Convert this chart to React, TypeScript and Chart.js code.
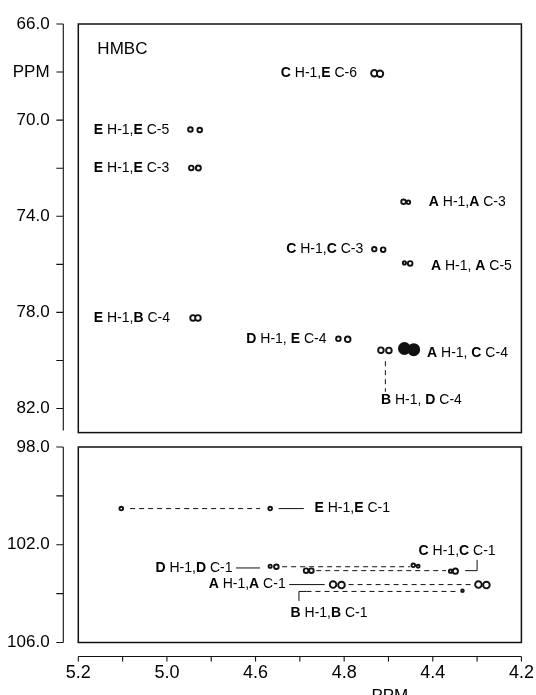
import React, { useEffect, useRef } from "react";
import { Chart, registerables } from "chart.js";
Chart.register(...registerables);

const FONT = '"Liberation Sans", Arial, Helvetica, sans-serif';
const INK = "#111111";

// ---- axes ----
const xTickValues = [5.2, 5.1, 5.0, 4.9, 4.8, 4.7, 4.6, 4.5, 4.4, 4.3, 4.2];
const xTickLabels = ["5.2", "", "5.0", "", "4.6", "", "4.8", "", "4.4", "", "4.2"];
const topTickValues = [66, 68, 70, 72, 74, 76, 78, 80, 82];
const topTickLabels = ["66.0", "PPM", "70.0", "", "74.0", "", "78.0", "", "82.0"];
const bottomTickValues = [98, 100, 102, 104, 106];
const bottomTickLabels = ["98.0", "", "102.0", "", "106.0"];

// ---- top panel peaks (1H ppm, 13C ppm) ----
const topPeakH = [4.532, 4.519, 4.947, 4.926, 4.945, 4.929, 4.466, 4.455, 4.532, 4.512, 4.464, 4.451, 4.941, 4.930, 4.613, 4.592, 4.517, 4.499, 4.464, 4.443];
const topPeakC = [68.05, 68.07, 70.39, 70.41, 71.99, 71.99, 73.40, 73.42, 75.37, 75.39, 75.94, 75.96, 78.23, 78.23, 79.10, 79.12, 79.57, 79.58, 79.50, 79.55];
const topPeakSize = [3.2, 3.2, 2.3, 2.3, 2.3, 2.5, 2.3, 1.8, 2.2, 2.3, 1.6, 2.3, 2.8, 2.8, 2.3, 2.8, 2.8, 2.8, 5.5, 5.5];
const topPeakSolid = [false, false, false, false, false, false, false, false, false, false, false, false, false, false, false, false, false, false, true, true];

const topLabelText = ["**C** H-1,**E** C-6", "**E** H-1,**E** C-5", "**E** H-1,**E** C-3", "**A** H-1,**A** C-3", "**C** H-1,**C** C-3", "**A** H-1, **A** C-5", "**E** H-1,**B** C-4", "**D** H-1, **E** C-4", "**A** H-1, **C** C-4", "**B** H-1, **D** C-4"];
const topLabelH = [4.571, 5.165, 5.165, 4.409, 4.557, 4.404, 5.165, 4.640, 4.413, 4.517];
const topLabelC = [68.05, 70.4, 72.0, 73.42, 75.37, 76.07, 78.23, 79.12, 79.68, 81.66];
const topLabelAlign = ["right", "left", "left", "left", "right", "left", "left", "right", "left", "left"];

const topLinkH = [[4.507, 4.507]];
const topLinkC = [[80.03, 81.30]];
const topLinkDashed = [true];

// ---- bottom panel peaks ----
const bottomPeakH = [5.103, 4.767, 4.767, 4.753, 4.444, 4.433, 4.686, 4.674, 4.360, 4.349, 4.625, 4.606, 4.297, 4.279, 4.333];
const bottomPeakC = [100.52, 100.52, 102.88, 102.90, 102.84, 102.88, 103.06, 103.06, 103.08, 103.08, 103.63, 103.65, 103.63, 103.65, 103.88];
const bottomPeakSize = [1.8, 1.8, 1.6, 2.3, 1.8, 1.5, 2.3, 2.3, 1.6, 2.6, 3.3, 3.3, 3.3, 3.3, 1.3];
const bottomPeakSolid = [false, false, false, false, false, false, false, false, false, false, false, false, false, false, false];

const bottomLabelText = ["**E** H-1,**E** C-1", "**D** H-1,**D** C-1", "**C** H-1,**C** C-1", "**A** H-1,**A** C-1", "**B** H-1,**B** C-1"];
const bottomLabelH = [4.667, 4.852, 4.432, 4.732, 4.721];
const bottomLabelC = [100.52, 102.95, 102.26, 103.63, 104.79];
const bottomLabelAlign = ["left", "right", "left", "right", "left"];

const bottomLinkH = [[5.083, 4.790], [4.748, 4.691], [4.844, 4.790], [4.740, 4.451], [4.663, 4.370], [4.327, 4.300, 4.300], [4.724, 4.644], [4.590, 4.312], [4.702, 4.702, 4.685], [4.685, 4.343]];
const bottomLinkC = [[100.52, 100.52], [100.52, 100.52], [102.95, 102.95], [102.9, 102.9], [103.06, 103.06], [103.06, 103.06, 102.62], [103.63, 103.63], [103.63, 103.63], [104.30, 103.91, 103.91], [103.91, 103.91]];
const bottomLinkDashed = [true, false, false, true, true, false, false, true, false, true];

const panelTitle = "HMBC";
const titleAt = [5.157, 67.06];
const xTitle = "PPM";
const xTitleAt = 4.497;

function drawRich(ctx: CanvasRenderingContext2D, text: string, x: number, y: number, align: string, size: number) {
  const parts = text.split("**");
  const fonts = parts.map((_, i) => `${i % 2 ? "bold " : ""}${size}px ${FONT}`);
  const widths = parts.map((p, i) => {
    ctx.font = fonts[i];
    return ctx.measureText(p).width;
  });
  const total = widths.reduce((a, b) => a + b, 0);
  let cx = align === "right" ? x - total : x;
  ctx.textAlign = "left";
  ctx.textBaseline = "middle";
  parts.forEach((p, i) => {
    ctx.font = fonts[i];
    ctx.fillText(p, cx, y);
    cx += widths[i];
  });
}

function peakDataset(hs: number[], cs: number[], sizes: number[], solid: boolean[]) {
  return {
    type: "scatter",
    data: hs.map((h, i) => ({ x: h, y: cs[i] })),
    pointRadius: sizes,
    pointBackgroundColor: solid.map((s) => (s ? INK : "#ffffff")),
    pointBorderColor: INK,
    pointBorderWidth: 1.9,
    order: 0,
  };
}

function linkDatasets(hs: number[][], cs: number[][], dashed: boolean[]) {
  return hs.map((row, k) => ({
    type: "scatter",
    data: row.map((h, i) => ({ x: h, y: cs[k][i] })),
    showLine: true,
    pointRadius: 0,
    borderColor: INK,
    borderWidth: 1,
    borderDash: dashed[k] ? [5, 4] : [],
    fill: false,
    order: 1,
  }));
}

function makeFramePlugin(opts: any) {
  return {
    id: "frame",
    afterDraw(chart: any) {
      const { ctx, chartArea: a, scales } = chart;
      const ys = scales.y;
      const xs = scales.x;
      ctx.save();
      ctx.strokeStyle = INK;
      ctx.fillStyle = "#000";
      ctx.lineWidth = 1.5;
      ctx.strokeRect(a.left, a.top, a.right - a.left, a.bottom - a.top);
      // detached left axis
      const ax = a.left - 15;
      ctx.lineWidth = 1.1;
      ctx.beginPath();
      ctx.moveTo(ax, a.top);
      ctx.lineTo(ax, a.bottom - opts.axisTrim);
      ys.ticks.forEach((t: any) => {
        const py = ys.getPixelForValue(t.value);
        ctx.moveTo(ax - 7, py);
        ctx.lineTo(ax, py);
      });
      ctx.stroke();
      if (opts.xAxis) {
        const ay = a.bottom + 14;
        ctx.beginPath();
        ctx.moveTo(a.left, ay);
        ctx.lineTo(a.right, ay);
        xs.ticks.forEach((t: any) => {
          const px = xs.getPixelForValue(t.value);
          ctx.moveTo(px, ay);
          ctx.lineTo(px, ay + 5);
        });
        ctx.stroke();
        ctx.font = `17px ${FONT}`;
        ctx.textAlign = "center";
        ctx.textBaseline = "alphabetic";
        ctx.fillText(xTitle, xs.getPixelForValue(xTitleAt), a.bottom + 58);
      }
      if (opts.title) {
        ctx.font = `17px ${FONT}`;
        ctx.textAlign = "left";
        ctx.textBaseline = "middle";
        ctx.fillText(opts.title, xs.getPixelForValue(titleAt[0]), ys.getPixelForValue(titleAt[1]));
      }
      opts.labels.text.forEach((t: string, i: number) => {
        drawRich(ctx, t, xs.getPixelForValue(opts.labels.h[i]), ys.getPixelForValue(opts.labels.c[i]), opts.labels.align[i], 14);
      });
      ctx.restore();
    },
  };
}

function makeConfig(p: any) {
  return {
    type: "scatter",
    data: {
      datasets: [peakDataset(p.peakH, p.peakC, p.peakSize, p.peakSolid), ...linkDatasets(p.linkH, p.linkC, p.linkDashed)],
    },
    options: {
      responsive: false,
      animation: false,
      devicePixelRatio: 1,
      events: [],
      layout: { padding: { left: 0, right: 14.6, top: p.padTop, bottom: p.padBottom } },
      plugins: { legend: { display: false }, tooltip: { enabled: false } },
      scales: {
        x: {
          type: "linear",
          min: 4.2,
          max: 5.2,
          reverse: true,
          display: p.showX,
          position: "bottom",
          grid: { display: false, drawTicks: false },
          border: { display: false },
          afterBuildTicks: (s: any) => {
            s.ticks = xTickValues.map((v) => ({ value: v }));
          },
          afterFit: (s: any) => {
            s.height = p.xHeight;
            s.paddingLeft = 0;
            s.paddingRight = 0;
          },
          ticks: {
            autoSkip: false,
            maxRotation: 0,
            padding: 20,
            color: "#000",
            font: { family: FONT, size: 18 },
            callback: (v: number) => {
              const i = xTickValues.findIndex((t) => Math.abs(t - v) < 1e-6);
              return i >= 0 ? xTickLabels[i] : "";
            },
          },
        },
        y: {
          type: "linear",
          min: p.yMin,
          max: p.yMax,
          reverse: true,
          position: "left",
          grid: { display: false, drawTicks: false },
          border: { display: false },
          afterBuildTicks: (s: any) => {
            s.ticks = p.yTicks.map((v: number) => ({ value: v }));
          },
          afterFit: (s: any) => {
            s.width = 78.3;
            s.paddingTop = 0;
            s.paddingBottom = 0;
          },
          ticks: {
            autoSkip: false,
            padding: 28.7,
            color: "#000",
            font: { family: FONT, size: 17 },
            callback: (v: number) => {
              const i = p.yTicks.findIndex((t: number) => Math.abs(t - v) < 1e-6);
              return i >= 0 ? p.yLabels[i] : "";
            },
          },
        },
      },
    },
    plugins: [makeFramePlugin(p.frame)],
  };
}

export default function App() {
  const topRef = useRef<HTMLCanvasElement>(null);
  const botRef = useRef<HTMLCanvasElement>(null);
  useEffect(() => {
    const top = new Chart(
      topRef.current as HTMLCanvasElement,
      makeConfig({
        peakH: topPeakH, peakC: topPeakC, peakSize: topPeakSize, peakSolid: topPeakSolid,
        linkH: topLinkH, linkC: topLinkC, linkDashed: topLinkDashed,
        padTop: 24, padBottom: 6, showX: false, xHeight: 0,
        yMin: 66, yMax: 83, yTicks: topTickValues, yLabels: topTickLabels,
        frame: { axisTrim: 2, xAxis: false, title: panelTitle, labels: { text: topLabelText, h: topLabelH, c: topLabelC, align: topLabelAlign } },
      }) as any
    );
    const bot = new Chart(
      botRef.current as HTMLCanvasElement,
      makeConfig({
        peakH: bottomPeakH, peakC: bottomPeakC, peakSize: bottomPeakSize, peakSolid: bottomPeakSolid,
        linkH: bottomLinkH, linkC: bottomLinkC, linkDashed: bottomLinkDashed,
        padTop: 7, padBottom: 0, showX: true, xHeight: 52.5,
        yMin: 98, yMax: 106, yTicks: bottomTickValues, yLabels: bottomTickLabels,
        frame: { axisTrim: 0, xAxis: true, title: null, labels: { text: bottomLabelText, h: bottomLabelH, c: bottomLabelC, align: bottomLabelAlign } },
      }) as any
    );
    return () => {
      top.destroy();
      bot.destroy();
    };
  }, []);
  return (
    <div style={{ position: "fixed", left: 0, top: 0, width: 536, height: 695, background: "#fff", overflow: "hidden" }}>
      <canvas ref={topRef} width={536} height={440} style={{ position: "absolute", left: 0, top: 0, width: 536, height: 440 }} />
      <canvas ref={botRef} width={536} height={255} style={{ position: "absolute", left: 0, top: 440, width: 536, height: 255 }} />
    </div>
  );
}
